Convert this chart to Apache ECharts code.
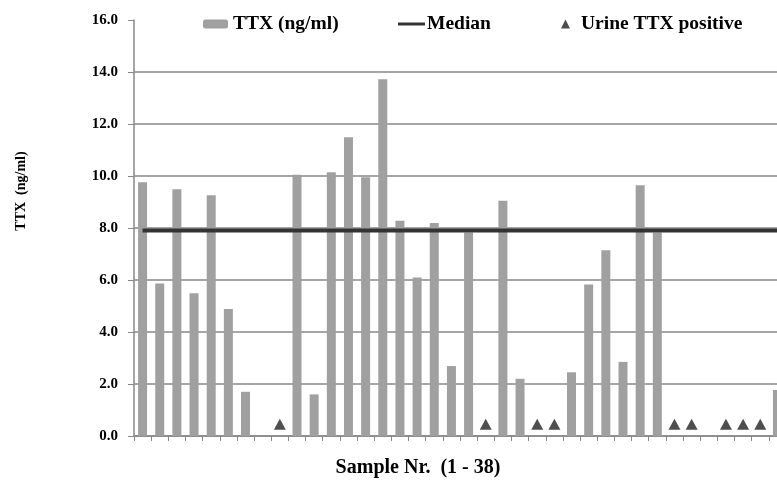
<!DOCTYPE html>
<html>
<head>
<meta charset="utf-8">
<title>TTX</title>
<script src="https://cdn.jsdelivr.net/npm/echarts@6/dist/echarts.min.js"></script>
<style>
  html, body { margin: 0; padding: 0; background: #fff; overflow: hidden; }
  /* a bit wider than the window: the last bar is cut off like in the original */
  #chart { width: 786px; height: 480px; }
</style>
</head>
<body>
<div id="chart"></div>
<script>
// sample numbers 1..38
const samples = [];
for (let i = 1; i <= 38; i++) samples.push(String(i));

// TTX in serum (ng/ml), null = nothing measured
const ttx = [
  9.76, 5.87, 9.49, 5.49, 9.26, 4.88, 1.70, null, null, 10.05,
  1.60, 10.14, 11.49, 9.95, 13.72, 8.28, 6.10, 8.19, 2.69, 7.83,
  null, 9.05, 2.20, null, null, 2.45, 5.83, 7.14, 2.85, 9.64,
  7.83, null, null, null, null, null, null, 1.77
];

// samples with positive urine TTX
const urinePositive = [9, 21, 24, 25, 32, 33, 35, 36, 37];

const median = 7.9;
const yTicks = ['0.0', '2.0', '4.0', '6.0', '8.0', '10.0', '12.0', '14.0', '16.0'];

const markerLevel = 0.45; // triangles sit just above the axis

const serif = '"Liberation Serif", "Times New Roman", serif';

const medianData = samples.map(function () { return median; });
const urineData = urinePositive.map(function (n) { return [n - 1, markerLevel]; });

var chart = echarts.init(document.getElementById('chart'), null, { renderer: 'canvas' });

var legendText = { fontFamily: serif, fontWeight: 'bold', fontSize: 19.5, color: '#000' };

var option = {
  animation: false,
  backgroundColor: '#fff',
  textStyle: { fontFamily: serif },
  legend: [
    {
      data: ['TTX (ng/ml)'], left: 198, top: 9,
      itemWidth: 25, itemHeight: 9, itemGap: 0,
      textStyle: legendText
    },
    {
      data: [{ name: 'Median', icon: 'rect' }], left: 393, top: 9,
      itemWidth: 27, itemHeight: 3, itemGap: 0,
      textStyle: Object.assign({}, legendText, { padding: [0, 0, 0, -3] })
    },
    {
      data: [{ name: 'Urine TTX positive', icon: 'triangle' }], left: 556, top: 9,
      itemWidth: 9, itemHeight: 9, itemGap: 0,
      textStyle: Object.assign({}, legendText, { padding: [0, 0, 0, 6] })
    }
  ],
  grid: { left: 134, right: 0, top: 20, bottom: 44, containLabel: false },
  xAxis: {
    type: 'category',
    data: samples,
    boundaryGap: true,
    axisLine: { lineStyle: { color: '#888', width: 1.5 } },
    axisTick: { show: true, length: 5, lineStyle: { color: '#888' } },
    axisLabel: { show: false },
    splitLine: { show: false }
  },
  yAxis: {
    type: 'value',
    min: 0,
    max: 16,
    interval: 2,
    axisLine: { show: true, lineStyle: { color: '#888', width: 1.5 } },
    axisTick: { show: true, length: 6, lineStyle: { color: '#888' } },
    axisLabel: {
      margin: 16,
      fontFamily: serif,
      fontWeight: 'bold',
      fontSize: 15,
      color: '#000',
      formatter: function (v) { return yTicks[Math.round(v / 2)]; }
    },
    splitLine: {
      show: true,
      showMaxLine: false,
      lineStyle: { color: '#888', width: 1.5 }
    }
  },
  graphic: [
    {
      type: 'text', x: 21, y: 191, rotation: Math.PI / 2,
      style: {
        text: 'TTX  (ng/ml)', fill: '#000',
        font: 'bold 14px ' + serif,
        align: 'center', verticalAlign: 'middle'
      }
    },
    {
      type: 'text', x: 418, y: 468,
      style: {
        text: 'Sample Nr.  (1 - 38)', fill: '#000',
        font: 'bold 20px ' + serif,
        align: 'center', verticalAlign: 'middle'
      }
    }
  ],
  series: [
    {
      name: 'TTX (ng/ml)',
      type: 'bar',
      data: ttx,
      barWidth: 9,
      itemStyle: { color: '#a0a0a0' },
      z: 2
    },
    {
      name: 'Median',
      type: 'line',
      data: medianData,
      symbol: 'none',
      lineStyle: { color: '#333', width: 4 },
      itemStyle: { color: '#333' },
      z: 3
    },
    {
      name: 'Urine TTX positive',
      type: 'scatter',
      data: urineData,
      symbol: 'triangle',
      symbolSize: [12, 11],
      itemStyle: { color: '#222' },
      z: 4
    }
  ]
};

chart.setOption(option);
</script>
</body>
</html>
